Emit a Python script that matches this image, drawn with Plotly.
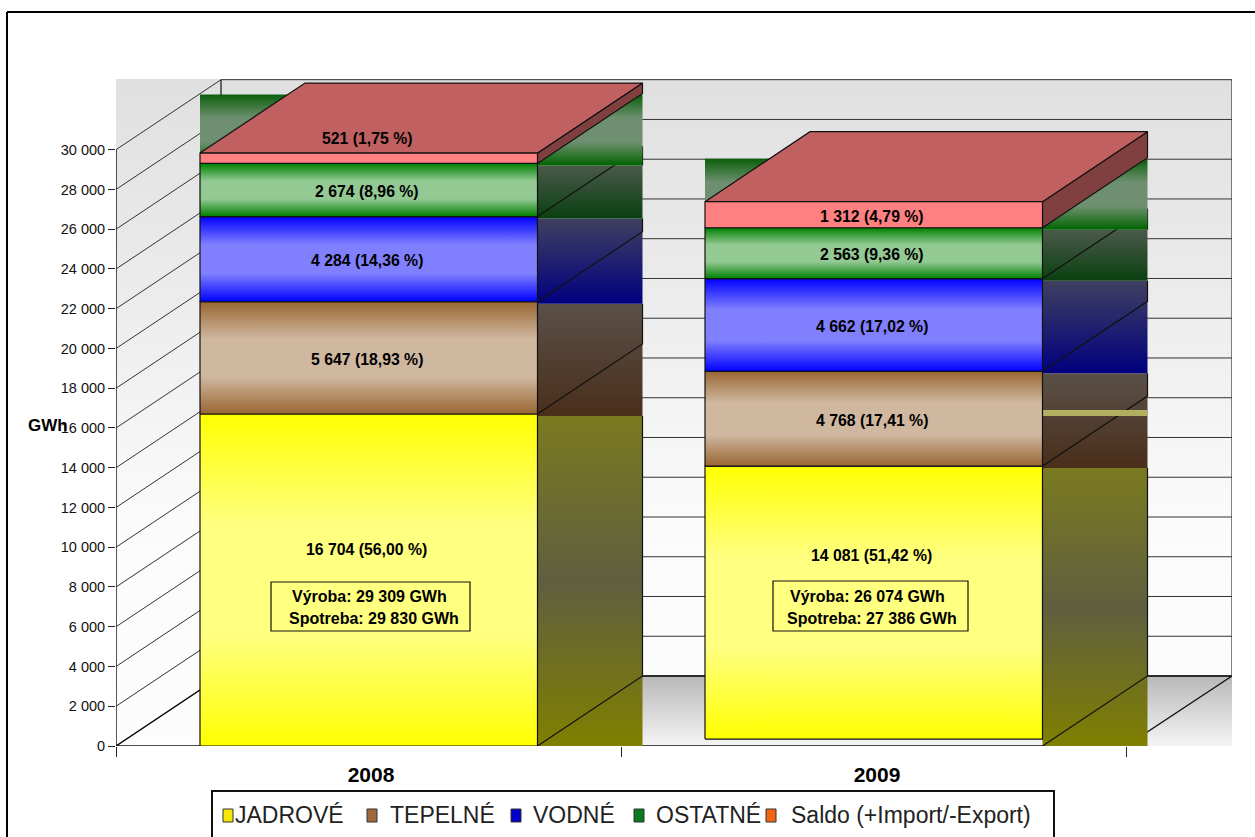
import plotly.graph_objects as go

# values (GWh)
years = ["2008", "2009"]
series = ["JADROVÉ", "TEPELNÉ", "VODNÉ", "OSTATNÉ", "Saldo (+Import/-Export)"]
jadrove = [16704, 14081]
tepelne = [5647, 4768]
vodne = [4284, 4662]
ostatne = [2674, 2563]
saldo = [521, 1312]
labels_2008 = ["16 704 (56,00 %)", "5 647 (18,93 %)", "4 284 (14,36 %)", "2 674 (8,96 %)", "521 (1,75 %)"]
labels_2009 = ["14 081 (51,42 %)", "4 768 (17,41 %)", "4 662 (17,02 %)", "2 563 (9,36 %)", "1 312 (4,79 %)"]
vyroba = ["Výroba: 29 309 GWh", "Výroba: 26 074 GWh"]
spotreba = ["Spotreba: 29 830 GWh", "Spotreba: 27 386 GWh"]
y_ticks = list(range(0, 30001, 2000))

# layout of the plot in page pixels
W, H = 1255, 837
L, R, T, B = 116, 1232, 79, 746
PX_CAT = 505.0
PX_GWH = 596.3 / 30000
DX = 105 / PX_CAT
DY = 70 / PX_GWH
GAP = 84 / PX_CAT
BAR_W = 337.5 / PX_CAT
SHIFT = 2 / PX_GWH
FONT = "Liberation Sans, Arial, sans-serif"

front_colors = [
    ["#ffff00", "#ffff80", "#ffff80", "#ffff00"],
    ["#996633", "#d0b8a0", "#d0b8a0", "#996633"],
    ["#0000ff", "#8080ff", "#8080ff", "#0000ff"],
    ["#008000", "#93c993", "#93c993", "#008000"],
    ["#ff8080"],
]
side_colors = [
    ["#7a7a20", "#5f5f40", "#808000"],
    ["#5a5048", "#4a2e1a"],
    ["#404060", "#000080"],
    ["#4a5a4a", "#0a4010"],
]
legend_colors = ["#f5e800", "#a0683c", "#0000c8", "#0a7a1e", "#f06414"]
legend_swatch_x = [223, 367, 511, 634, 766]
legend_text_x = [233, 388, 531, 654, 789]


def px_x(px):
    return (px - L) / (R - L)


def px_y(py):
    return (B - py) / (B - T)


def poly(fig, xs, ys, colors, line=True):
    if len(colors) == 1:
        fill = dict(fillcolor=colors[0])
    else:
        n = len(colors) - 1
        # colorscale runs from the bottom of the shape up
        scale = [[i / n, c] for i, c in enumerate(reversed(colors))]
        fill = dict(fillgradient=dict(type="vertical", colorscale=scale))
    fig.add_trace(go.Scatter(
        x=xs + xs[:1], y=ys + ys[:1], mode="lines", fill="toself",
        line=dict(color="#111111", width=1.2) if line else dict(width=0, color="rgba(0,0,0,0)"),
        hoverinfo="skip", showlegend=False, **fill))


def rect(fig, x0, x1, y0, y1, colors, line=False):
    poly(fig, [x0, x1, x1, x0], [y0, y0, y1, y1], colors, line)


def lines(fig, xs, ys, color="#222222", width=1.0):
    fig.add_trace(go.Scatter(x=xs, y=ys, mode="lines", line=dict(color=color, width=width),
                             hoverinfo="skip", showlegend=False))


def page_text(x, y, text, size, color="black", xanchor="center"):
    return dict(x=px_x(x), y=px_y(y), xref="paper", yref="paper", text=text, showarrow=False,
                xanchor=xanchor, yanchor="middle", font=dict(family=FONT, size=size, color=color))


fig = go.Figure()
x_max = (R - L) / PX_CAT
y_max = (B - T) / PX_GWH

# walls and floor
rect(fig, 0, x_max, 0, y_max, ["#e0e0e0", "#ececec", "#fbfbfb", "#fdfdfd"])
rect(fig, DX, x_max, 0, DY, ["#b8b8b8", "#f5f5f5"])
grid_x, grid_y = [], []
for v in y_ticks:
    grid_x += [0, DX, x_max, None]
    grid_y += [v, v + DY, v + DY, None]
lines(fig, grid_x, grid_y, "#333333", 1.0)
lines(fig, [0, DX, x_max, 2, 0], [0, DY, DY, 0, 0], "#111111", 1.4)
lines(fig, [0, 0], [0, y_ticks[-1]], "#111111", 1.4)
lines(fig, [DX, DX], [DY, y_ticks[-1] + DY], "#111111", 1.2)
lines(fig, [x_max, x_max], [DY, y_ticks[-1] + DY], "#333333", 1.2)

# stacked bars, back to front: side bands come first, fronts last
values = [jadrove, tepelne, vodne, ostatne, saldo]
front_base = [0, 350]
annotations = []
for b, year in enumerate(years):
    x0 = b + GAP
    x1 = x0 + BAR_W
    tops = []
    total = 0
    for s in values:
        total += s[b]
        tops.append(total)
    bottoms = [0] + tops[:-1]

    # side bands with the bottom edge of each block
    for i in range(4):
        rect(fig, x1, x1 + DX, bottoms[i] - SHIFT, tops[i] - SHIFT, side_colors[i])
        lines(fig, [x1, x1 + DX, x1 + DX], [bottoms[i], bottoms[i] + DY, tops[i] - SHIFT], "#111111", 1.2)
    if b == 1:
        # pale stripe left on the 2009 side
        rect(fig, x1, x1 + DX, jadrove[0] - SHIFT, jadrove[0] + 2 * SHIFT, ["#b0b060"])

    # green band behind the top block, then the top block itself
    rect(fig, x0, x1 + DX, tops[3] - SHIFT, tops[3] + DY - SHIFT * 0.5,
         ["#0a5f0a", "#6f9070", "#6f9070", "#006400"])
    poly(fig, [x1, x1 + DX, x1 + DX, x1], [tops[3], tops[3] + DY, tops[4] + DY, tops[4]], ["#804040"])
    poly(fig, [x0, x1, x1 + DX, x0 + DX], [tops[4], tops[4], tops[4] + DY, tops[4] + DY], ["#c06060"])

    # fronts
    for i in range(5):
        low = front_base[b] if i == 0 else bottoms[i]
        rect(fig, x0, x1, low, tops[i], front_colors[i], line=True)

    # labels, the lowest and (for 2008) the top one were moved by hand in the original
    texts = labels_2008 if b == 0 else labels_2009
    for i, t in enumerate(texts):
        shift = -1.5
        if i == 0:
            shift = 30 if b == 0 else 51
        if i == 4 and b == 0:
            shift = 20
        annotations.append(dict(x=(x0 + x1) / 2 - 0.004, y=(bottoms[i] + tops[i]) / 2, xref="x", yref="y",
                                text="<b>" + t + "</b>", showarrow=False, yshift=shift,
                                xanchor="center", yanchor="middle",
                                font=dict(family=FONT, size=15.8, color="black")))

fig.update_layout(
    width=W, height=H, autosize=False,
    margin=dict(l=L, r=W - R, t=T, b=H - B, pad=0),
    paper_bgcolor="white", plot_bgcolor="white",
    separators=", ", showlegend=False,
    font=dict(family=FONT, color="#111111"),
    xaxis=dict(range=[0, x_max], showgrid=False, zeroline=False, showline=False,
               tickvals=[0.505, 1.507], ticktext=years, ticks="", ticklabelstandoff=14,
               tickfont=dict(size=21, family=FONT, color="black", weight="bold"),
               minor=dict(tickvals=[0, 1, 2], ticks="outside", ticklen=10, tickcolor="#222222", tickwidth=1)),
    yaxis=dict(range=[0, y_max], showgrid=False, zeroline=False, showline=False,
               tickvals=y_ticks, tickformat=",d", ticks="outside", ticklen=7,
               tickcolor="#222222", tickwidth=1,
               tickfont=dict(size=14.5, family=FONT, color="#111111")),
)

# info boxes
box_px = [(271, 470, 582, 631), (773, 968, 581, 631)]
line1_x = [369.5, 867]
line2_x = [374, 872]
shapes = []
for b in range(2):
    x0, x1, y0, y1 = box_px[b]
    shapes.append(dict(type="rect", xref="paper", yref="paper", x0=px_x(x0), x1=px_x(x1),
                       y0=px_y(y1), y1=px_y(y0), line=dict(color="#111111", width=1.2)))
    annotations.append(page_text(line1_x[b], 596, "<b>" + vyroba[b] + "</b>", 16))
    annotations.append(page_text(line2_x[b], 618, "<b>" + spotreba[b] + "</b>", 16))

# GWh axis title, it sits over the 16 000 tick label in the original too
annotations.append(page_text(48, 425, "<b>GWh</b>", 17))

# legend drawn by hand, its box runs off the bottom of the page
shapes.append(dict(type="rect", xref="paper", yref="paper", x0=px_x(212), x1=px_x(1054),
                   y0=px_y(845), y1=px_y(791), line=dict(color="#111111", width=2)))
for i, name in enumerate(series):
    sx = legend_swatch_x[i]
    shapes.append(dict(type="rect", xref="paper", yref="paper", x0=px_x(sx), x1=px_x(sx + 10),
                       y0=px_y(822), y1=px_y(809), fillcolor=legend_colors[i],
                       line=dict(color="#333333", width=1)))
    annotations.append(page_text(legend_text_x[i], 815, name, 23, "#222222", "left"))

# outer frame of the page, open on the right
shapes.append(dict(type="line", xref="paper", yref="paper", x0=px_x(7), x1=px_x(1255),
                   y0=px_y(12), y1=px_y(12), line=dict(color="black", width=2)))
shapes.append(dict(type="line", xref="paper", yref="paper", x0=px_x(7), x1=px_x(7),
                   y0=px_y(12), y1=px_y(845), line=dict(color="black", width=2)))

fig.update_layout(annotations=annotations, shapes=shapes)

fig.write_html("out.html", config={"displayModeBar": False},
               post_script="document.body.style.margin='0';document.documentElement.style.overflow='hidden';")
